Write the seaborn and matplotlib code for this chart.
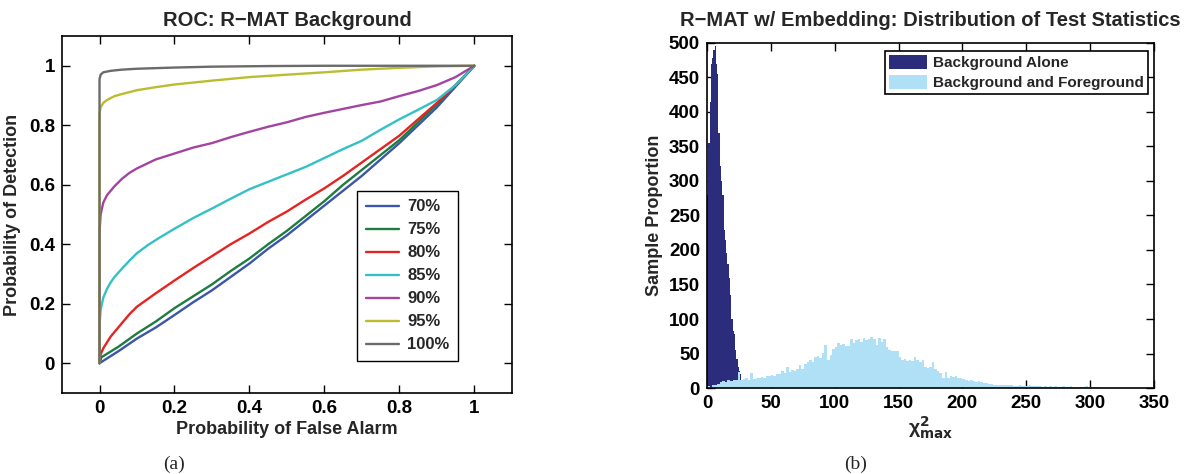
import numpy as np
import pandas as pd
import matplotlib
matplotlib.use("Agg")
import matplotlib.pyplot as plt
from matplotlib.patches import Patch
import seaborn as sns

# ---- ROC curves ----
fa_70 = [0, 0.05, 0.1, 0.15, 0.2, 0.25, 0.3, 0.35, 0.4, 0.45, 0.5, 0.55, 0.6, 0.65, 0.7, 0.75, 0.8, 0.85, 0.9, 0.95, 1.0]
pd_70 = [0, 0.04, 0.083, 0.12, 0.162, 0.205, 0.245, 0.29, 0.335, 0.385, 0.43, 0.48, 0.53, 0.58, 0.63, 0.685, 0.74, 0.80, 0.86, 0.93, 1.0]
fa_75 = [0, 0.005, 0.05, 0.1, 0.15, 0.2, 0.25, 0.3, 0.35, 0.4, 0.45, 0.5, 0.55, 0.6, 0.65, 0.7, 0.75, 0.8, 0.85, 0.9, 0.95, 1.0]
pd_75 = [0, 0.02, 0.055, 0.1, 0.14, 0.185, 0.225, 0.265, 0.31, 0.352, 0.40, 0.445, 0.495, 0.545, 0.6, 0.65, 0.70, 0.75, 0.81, 0.87, 0.935, 1.0]
fa_80 = [0, 0.003, 0.01, 0.03, 0.05, 0.08, 0.1, 0.15, 0.2, 0.25, 0.3, 0.35, 0.4, 0.45, 0.5, 0.55, 0.6, 0.65, 0.7, 0.75, 0.8, 0.85, 0.9, 0.95, 1.0]
pd_80 = [0, 0.03, 0.05, 0.09, 0.12, 0.165, 0.19, 0.235, 0.278, 0.32, 0.36, 0.40, 0.436, 0.475, 0.51, 0.55, 0.588, 0.63, 0.675, 0.72, 0.765, 0.82, 0.875, 0.935, 1.0]
fa_85 = [0, 0, 0.003, 0.01, 0.02, 0.03, 0.04, 0.06, 0.08, 0.1, 0.13, 0.16, 0.2, 0.25, 0.3, 0.35, 0.4, 0.45, 0.5, 0.55, 0.6, 0.65, 0.7, 0.75, 0.8, 0.85, 0.9, 0.95, 1.0]
pd_85 = [0, 0.13, 0.18, 0.22, 0.25, 0.272, 0.29, 0.318, 0.345, 0.37, 0.398, 0.422, 0.452, 0.488, 0.52, 0.553, 0.585, 0.61, 0.635, 0.66, 0.69, 0.72, 0.748, 0.785, 0.82, 0.852, 0.885, 0.935, 1.0]
fa_90 = [0, 0, 0.003, 0.01, 0.02, 0.04, 0.06, 0.08, 0.1, 0.15, 0.2, 0.25, 0.3, 0.35, 0.4, 0.45, 0.5, 0.55, 0.6, 0.65, 0.7, 0.75, 0.8, 0.85, 0.9, 0.95, 1.0]
pd_90 = [0, 0.44, 0.5, 0.54, 0.565, 0.595, 0.62, 0.64, 0.655, 0.685, 0.705, 0.725, 0.74, 0.76, 0.778, 0.795, 0.81, 0.828, 0.842, 0.855, 0.868, 0.88, 0.898, 0.915, 0.935, 0.962, 1.0]
fa_95 = [0, 0, 0.003, 0.01, 0.02, 0.04, 0.06, 0.1, 0.15, 0.2, 0.3, 0.4, 0.5, 0.6, 0.7, 0.8, 0.9, 1.0]
pd_95 = [0, 0.84, 0.86, 0.875, 0.885, 0.898, 0.905, 0.918, 0.928, 0.937, 0.95, 0.962, 0.97, 0.978, 0.987, 0.993, 0.998, 1.0]
fa_100 = [0, 0, 0.003, 0.01, 0.03, 0.06, 0.1, 0.2, 0.3, 0.45, 0.6, 1.0]
pd_100 = [0, 0.955, 0.97, 0.978, 0.983, 0.987, 0.99, 0.994, 0.997, 0.999, 1.0, 1.0]

roc_labels = ["70%", "75%", "80%", "85%", "90%", "95%", "100%"]
roc_colors = ["#3b55a8", "#1e7d3e", "#e52421", "#33c1c6", "#a3459f", "#bcbc30", "#6b6b6b"]
roc_fa = [fa_70, fa_75, fa_80, fa_85, fa_90, fa_95, fa_100]
roc_pd = [pd_70, pd_75, pd_80, pd_85, pd_90, pd_95, pd_100]

roc_ticks = [0, 0.2, 0.4, 0.6, 0.8, 1]
roc_ticklabels = ["0", "0.2", "0.4", "0.6", "0.8", "1"]

# ---- histograms (bar heights) ----
# background alone: bins of width 1 starting at 0
bg_counts = [280, 355, 415, 470, 478, 490, 495, 470, 455, 370,
             322, 300, 280, 229, 215, 195, 180, 160, 135, 100,
             82, 78, 55, 42, 30, 25, 20, 10, 4]
# background and foreground: bins of width 2 starting at 0
fg_counts = [3, 2, 4, 5, 6,
             9, 10, 8, 11, 10,
             12, 11, 23, 12, 13,
             14, 12, 22, 13, 15,
             14, 16, 15, 18, 17,
             19, 18, 21, 20, 24,
             22, 30, 23, 26, 25,
             28, 33, 27, 35, 38,
             40, 37, 45, 47, 44,
             51, 63, 41, 48, 56,
             60, 65, 62, 64, 61,
             61, 71, 65, 70, 71,
             66, 72, 69, 71, 74,
             71, 63, 72, 66, 71,
             60, 55, 53, 54, 53,
             45, 41, 42, 39, 40,
             39, 45, 41, 38, 40,
             30, 29, 31, 37, 27,
             24, 22, 14, 23, 15,
             17, 16, 18, 15, 14,
             13, 12, 10, 11, 10,
             9, 10, 8, 7, 7,
             6, 6, 5, 4, 5,
             4, 5, 4, 4, 4,
             3, 3, 4, 3, 3,
             3, 4, 3, 3, 3,
             3, 2, 3, 2, 3,
             2, 3, 2, 2, 3,
             2, 2, 3, 2, 2,
             2, 2, 2, 3, 2,
             2, 2, 2, 2]
bg_width = 1.0
fg_width = 2.0
hist_labels = ["Background Alone", "Background and Foreground"]
hist_colors = ["#2b2d7c", "#b0e0f5"]
hist_xticks = [0, 50, 100, 150, 200, 250, 300, 350]
hist_yticks = [0, 50, 100, 150, 200, 250, 300, 350, 400, 450, 500]

sns.set_theme(style="ticks")
plt.rcParams["font.family"] = ["Liberation Sans", "DejaVu Sans"]
plt.rcParams["font.weight"] = "bold"
plt.rcParams["axes.labelweight"] = "bold"
plt.rcParams["axes.titleweight"] = "bold"
plt.rcParams["mathtext.default"] = "regular"

fig = plt.figure(figsize=(11.93, 4.74), dpi=100)
ax1 = fig.add_axes([0.052, 0.171, 0.377, 0.753])
ax2 = fig.add_axes([0.5926, 0.1814, 0.3747, 0.728])

# left: ROC
for fa, pdet, lab, col in zip(roc_fa, roc_pd, roc_labels, roc_colors):
    sns.lineplot(x=fa, y=pdet, ax=ax1, color=col, linewidth=1.7, label=lab,
                 estimator=None, sort=False)
ax1.set_xlim(-0.1, 1.1)
ax1.set_ylim(-0.1, 1.1)
ax1.set_xticks(roc_ticks)
ax1.set_xticklabels(roc_ticklabels)
ax1.set_yticks(roc_ticks)
ax1.set_yticklabels(roc_ticklabels)
ax1.set_title("ROC: R\u2212MAT Background", fontsize=14.5, pad=7)
ax1.set_xlabel("Probability of False Alarm", fontsize=13, labelpad=3)
ax1.set_ylabel("Probability of Detection", fontsize=13, labelpad=6)
leg1 = ax1.legend(loc="lower right", bbox_to_anchor=(0.88, 0.09), fontsize=12,
                  frameon=True, fancybox=False, edgecolor="black", framealpha=1,
                  handlelength=2.0, borderpad=0.5, labelspacing=0.48, handletextpad=0.5,
                  borderaxespad=0)
leg1.get_frame().set_linewidth(1.0)

# right: histograms
bg = pd.DataFrame({"chi": np.arange(len(bg_counts)) * bg_width + bg_width / 2, "n": bg_counts})
fg = pd.DataFrame({"chi": np.arange(len(fg_counts)) * fg_width + fg_width / 2, "n": fg_counts})
sns.histplot(data=bg, x="chi", weights="n", binwidth=bg_width,
             binrange=(0, len(bg_counts) * bg_width), ax=ax2,
             color=hist_colors[0], alpha=1, linewidth=0, stat="count")
sns.histplot(data=fg, x="chi", weights="n", binwidth=fg_width,
             binrange=(0, len(fg_counts) * fg_width), ax=ax2,
             color=hist_colors[1], alpha=1, linewidth=0, stat="count")
ax2.set_xlim(0, 350)
ax2.set_ylim(0, 500)
ax2.set_xticks(hist_xticks)
ax2.set_yticks(hist_yticks)
ax2.set_title("R\u2212MAT w/ Embedding: Distribution of Test Statistics", fontsize=14.5, pad=12)
ax2.set_xlabel(r"$\chi^{\mathbf{2}}_{\mathbf{max}}$", fontsize=14, labelpad=2)
ax2.set_ylabel("Sample Proportion", fontsize=13, labelpad=4)
handles = [Patch(facecolor=c, edgecolor="none") for c in hist_colors]
leg2 = ax2.legend(handles, hist_labels, loc="upper right", bbox_to_anchor=(0.987, 0.977),
                  fontsize=11, frameon=True, fancybox=False, edgecolor="black", framealpha=1,
                  handlelength=2.5, handleheight=1.1, borderpad=0.25, labelspacing=0.3,
                  handletextpad=0.4, borderaxespad=0)
leg2.get_frame().set_linewidth(1.2)

for ax in (ax1, ax2):
    ax.tick_params(direction="in", top=True, right=True, length=6, width=1,
                   labelsize=13.5, colors="black", pad=5)
    for s in ax.spines.values():
        s.set_linewidth(1.2)
        s.set_color("black")
    for t in ax.get_xticklabels() + ax.get_yticklabels():
        t.set_fontweight("bold")

fig.text(0.146, 0.021, "(a)", family=["Liberation Serif", "DejaVu Serif"],
         fontsize=14, fontweight="normal", ha="center", va="center")
fig.text(0.7175, 0.021, "(b)", family=["Liberation Serif", "DejaVu Serif"],
         fontsize=14, fontweight="normal", ha="center", va="center")

fig.savefig("out.png", dpi=100)
